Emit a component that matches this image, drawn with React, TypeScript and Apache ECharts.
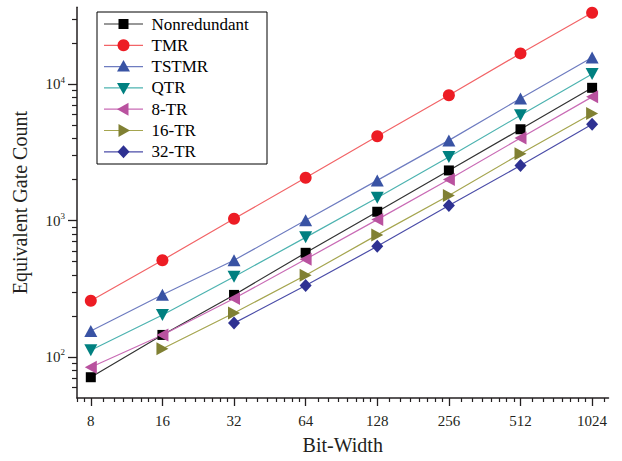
import React, { useEffect, useRef } from "react";
import * as echarts from "echarts";

const bitWidths = [8, 16, 32, 64, 128, 256, 512, 1024];
const seriesNames = ["Nonredundant", "TMR", "TSTMR", "QTR", "8-TR", "16-TR", "32-TR"];
const nonredundant = [71, 145, 285, 580, 1160, 2330, 4670, 9400];
const tmr = [258, 512, 1030, 2060, 4150, 8300, 16800, 33400];
const tstmr = [155, 286, 512, 1005, 1970, 3870, 7850, 15700];
const qtr = [112, 203, 387, 753, 1470, 2920, 5910, 11860];
const tr8 = [84, 145, 268, 520, 1016, 2000, 4030, 8070];
const tr16 = [null, 115, 210, 397, 785, 1528, 3090, 6100];
const tr32 = [null, null, 177, 334, 647, 1288, 2535, 5080];

const yMajorExponents = [2, 3, 4];
const yMinorTicks = [60, 70, 80, 90, 200, 300, 400, 500, 600, 700, 800, 900, 2000, 3000, 4000, 5000, 6000, 7000, 8000, 9000, 20000, 30000];
const xMinorTicks = [7, 7.5, 9, 10, 11, 12, 13, 14, 15, 18, 20, 22, 24, 26, 28, 30, 36, 40, 44, 48, 52, 56, 60, 72, 80, 88, 96, 104, 112, 120, 144, 160, 176, 192, 208, 224, 240, 288, 320, 352, 384, 416, 448, 480, 576, 640, 704, 768, 832, 896, 960, 1152];

const X_MIN = 7;
const X_MAX = 1200;
const Y_MIN = 50;
const Y_MAX = 36600;

const FONT = "Liberation Serif";
const AXIS_COLOR = "#231F20";

const styles = [
  { marker: "#000000", line: "#333333", symbol: "rect", size: 10, legend: "square" },
  { marker: "#ED1C24", line: "#F26467", symbol: "circle", size: 12, legend: "circle" },
  { marker: "#3953A4", line: "#6E7CC0", symbol: "triangle", size: [13, 12], legend: "up" },
  { marker: "#008080", line: "#4DB3B0", symbol: "path://M0,0L10,0L5,9Z", size: [13, 12], legend: "down" },
  { marker: "#B9529F", line: "#C96BB5", symbol: "path://M9,0L9,10L0,5Z", size: [12, 13], legend: "left" },
  { marker: "#808033", line: "#A5A54F", symbol: "path://M0,0L0,10L9,5Z", size: [12, 13], legend: "right" },
  { marker: "#2E3192", line: "#4B4DA8", symbol: "diamond", size: [12, 13], legend: "diamond" },
];

const allValues = [nonredundant, tmr, tstmr, qtr, tr8, tr16, tr32];

function legendMarker(kind: string, cx: number, cy: number, color: string): any {
  const st = { fill: color };
  switch (kind) {
    case "square":
      return { type: "rect", shape: { x: cx - 5, y: cy - 5, width: 10, height: 10 }, style: st };
    case "circle":
      return { type: "circle", shape: { cx, cy, r: 6 }, style: st };
    case "up":
      return { type: "polygon", shape: { points: [[cx - 6.5, cy + 5], [cx + 6.5, cy + 5], [cx, cy - 6.5]] }, style: st };
    case "down":
      return { type: "polygon", shape: { points: [[cx - 6.5, cy - 5], [cx + 6.5, cy - 5], [cx, cy + 6.5]] }, style: st };
    case "left":
      return { type: "polygon", shape: { points: [[cx + 5, cy - 6.5], [cx + 5, cy + 6.5], [cx - 6.5, cy]] }, style: st };
    case "right":
      return { type: "polygon", shape: { points: [[cx - 5, cy - 6.5], [cx - 5, cy + 6.5], [cx + 6.5, cy]] }, style: st };
    default:
      return { type: "polygon", shape: { points: [[cx, cy - 6.5], [cx + 6, cy], [cx, cy + 6.5], [cx - 6, cy]] }, style: st };
  }
}

export default function App() {
  const ref = useRef<HTMLDivElement>(null);
  useEffect(() => {
    if (!ref.current) return;
    const chart = echarts.init(ref.current, undefined, { renderer: "svg" });
    const l2 = (v: number) => Math.log2(v);
    const l10 = (v: number) => Math.log10(v);
    const series = seriesNames.map((name, i) => {
      const s = styles[i];
      const data: any[] = [];
      allValues[i].forEach((v, j) => {
        if (v !== null && v !== undefined) data.push([l2(bitWidths[j]), l10(v as number)]);
      });
      return {
        name,
        type: "line",
        data,
        symbol: s.symbol,
        symbolSize: s.size,
        itemStyle: { color: s.marker },
        lineStyle: { color: s.line, width: 1.2 },
        emphasis: { disabled: true },
        z: 3,
      };
    });

    const LX = 97, LY = 12, LW = 170, LH = 152;
    const rowY0 = 24, rowStep = 21.3;
    const legendChildren: any[] = [
      { type: "rect", shape: { x: LX, y: LY, width: LW, height: LH }, style: { fill: "#fff", stroke: "#000", lineWidth: 1 } },
    ];
    seriesNames.forEach((name, i) => {
      const cy = rowY0 + rowStep * i;
      const s = styles[i];
      legendChildren.push({ type: "line", shape: { x1: 104, y1: cy, x2: 143, y2: cy }, style: { stroke: s.line, lineWidth: 1.2 } });
      legendChildren.push(legendMarker(s.legend, 123.5, cy, s.marker));
      legendChildren.push({
        type: "text",
        x: 151.5,
        y: cy,
        style: { text: name, font: "17px 'Liberation Serif', 'Times New Roman', serif", fill: "#000", verticalAlign: "middle", align: "left" },
      });
    });

    const option: any = {
      animation: false,
      textStyle: { fontFamily: FONT },
      grid: { left: 77, right: 13.5, top: 7.3, bottom: 63, containLabel: false, outerBoundsMode: "none" },
      graphic: [{ type: "group", z: 100, children: legendChildren }],
      xAxis: [
        {
          type: "value",
          min: l2(X_MIN),
          max: l2(X_MAX),
          name: "Bit-Width",
          nameLocation: "middle",
          nameGap: 37,
          nameTextStyle: { fontFamily: FONT, fontSize: 20, color: AXIS_COLOR },
          splitLine: { show: false },
          axisLine: { show: true, onZero: false, lineStyle: { color: AXIS_COLOR, width: 1.5 } },
          axisTick: {
            show: true,
            length: 8,
            lineStyle: { color: AXIS_COLOR, width: 1.3 },
            customValues: bitWidths.map(l2),
          },
          axisLabel: {
            customValues: bitWidths.map(l2),
            formatter: (v: number) => String(Math.round(Math.pow(2, v))),
            fontFamily: FONT,
            fontSize: 15,
            color: AXIS_COLOR,
            margin: 15,
          },
        },
        {
          type: "value",
          position: "bottom",
          min: l2(X_MIN),
          max: l2(X_MAX),
          splitLine: { show: false },
          axisLine: { show: false, onZero: false },
          axisLabel: { show: false },
          axisTick: {
            show: true,
            length: 4,
            lineStyle: { color: AXIS_COLOR, width: 1.2 },
            customValues: xMinorTicks.map(l2),
          },
        },
      ],
      yAxis: [
        {
          type: "value",
          min: l10(Y_MIN),
          max: l10(Y_MAX),
          name: "Equivalent Gate Count",
          nameLocation: "middle",
          nameGap: 47,
          nameTextStyle: { fontFamily: FONT, fontSize: 20, color: AXIS_COLOR },
          splitLine: { show: false },
          axisLine: { show: true, onZero: false, lineStyle: { color: AXIS_COLOR, width: 1.5 } },
          axisTick: {
            show: true,
            length: 9,
            lineStyle: { color: AXIS_COLOR, width: 1.3 },
            customValues: yMajorExponents,
          },
          axisLabel: {
            customValues: yMajorExponents,
            formatter: (v: number) => "{b|10}{s|" + Math.round(v) + "}",
            margin: 12,
            rich: {
              b: { fontFamily: FONT, fontSize: 15, color: AXIS_COLOR, lineHeight: 18 },
              s: { fontFamily: FONT, fontSize: 9, color: AXIS_COLOR, verticalAlign: "top", lineHeight: 9 },
            },
          },
        },
        {
          type: "value",
          position: "left",
          min: l10(Y_MIN),
          max: l10(Y_MAX),
          splitLine: { show: false },
          axisLine: { show: false, onZero: false },
          axisLabel: { show: false },
          axisTick: {
            show: true,
            length: 5,
            lineStyle: { color: AXIS_COLOR, width: 1.2 },
            customValues: yMinorTicks.map(l10),
          },
        },
      ],
      series,
    };
    chart.setOption(option);
    return () => chart.dispose();
  }, []);
  return <div ref={ref} style={{ width: 622, height: 461, position: "absolute", left: 0, top: 0, background: "#fff" }} />;
}
